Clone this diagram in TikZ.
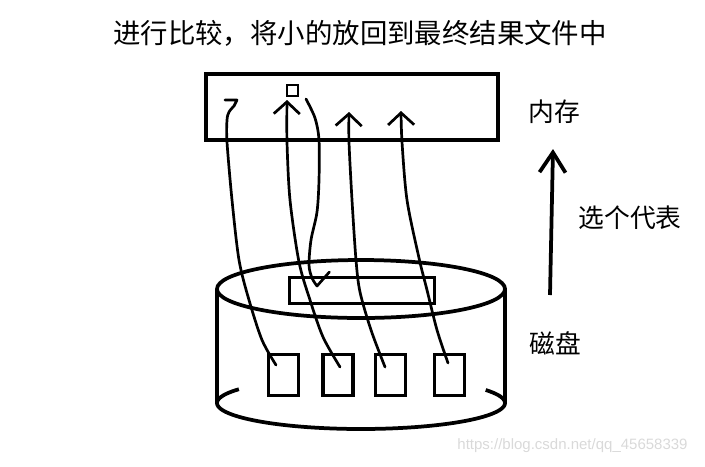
\documentclass[tikz,border=0pt]{standalone}
\usepackage{fontspec}
\setsansfont{Liberation Sans}
\newfontfamily\cjk{Noto Sans CJK SC}
\usetikzlibrary{positioning, arrows.meta, shapes.geometric, calc}

\begin{document}
\begin{tikzpicture}[
  x=0.03cm, y=-0.03cm,
  mem/.style={draw, line width=3.4pt, minimum width=8.76cm, minimum height=1.98cm, inner sep=0pt},
  blk/.style={draw, line width=2.8pt, minimum width=0.9cm, minimum height=1.23cm, inner sep=0pt},
  lbl/.style={font=\cjk\fontsize{22}{22}\selectfont, inner sep=0pt},
  disk/.style={line width=3.2pt},
  wire/.style={line width=2.3pt, line cap=round, line join=round},
  op/.style={wire, -{Straight Barb[length=0.36cm, width=0.78cm]}}
]
  \useasboundingbox (0,0) rectangle (705,466);

  \node[lbl, font=\cjk\fontsize{23.4}{24}\selectfont] (title) at (360,33) {进行比较，将小的放回到最终结果文件中};

  % memory
  \node[mem] (mem) at (352,107) {};
  \node[draw, line width=2pt, minimum size=0.33cm, inner sep=0pt] (tag) at (292.5,90.5) {};
  \node[lbl] (memlbl) at (554,112) {内存};
  \node[lbl] (pick) at (630,218) {选个代表};
  \node[lbl] (disklbl) at (555,343) {磁盘};

  % disk
  \node[draw, disk, ellipse, minimum width=8.64cm, minimum height=1.74cm, inner sep=0pt, outer sep=0pt] (top) at (361,289) {};
  \draw[disk] (top.west) -- (217,403);
  \draw[disk] (top.east) -- (505,403);
  \draw[disk] plot[domain=-30:212, samples=80] ({361+144*cos(\x)}, {403+26*sin(\x)});
  \node[blk, minimum width=4.35cm, minimum height=0.77cm] (buf) at (362,290.5) {};
  \foreach \i/\cx in {1/283.5, 2/338, 3/390.5, 4/449.5}
    \node[blk] (b\i) at (\cx,375) {};

  \coordinate (s1) at ($(b1)+(-7.5,-10)$);
  \coordinate (s2) at ($(b2)+(2,-8)$);
  \coordinate (s3) at ($(b3)+(-5.5,-8)$);
  \coordinate (s4) at ($(b4)+(-1.5,-12)$);
  \coordinate (t2) at (287,100);
  \coordinate (t3) at (349,112);
  \coordinate (t4) at (401,111);
  \coordinate (r0) at (306,99);

  \draw[wire] plot[smooth] coordinates {(s1) (262,340) (249,300) (239,260) (232,200) (227,142) (227,120) (229,112) (234,106)} -- (237,100) -- (225,100);
  \draw[op] plot[smooth] coordinates {(s2) (323,337) (310,300) (299,262) (290,200) (287,142) (t2)};
  \draw[wire] plot[smooth] coordinates {(r0) (315,118) (319,140) (319,180) (317,212) (311,240) (309,265) (312,278) (317,286)} -- ($(buf.north west)!0.28!(buf.north east)+(0,-4)$);
  \draw[op] plot[smooth] coordinates {(s3) (371,330) (360,292) (356,260) (352,200) (349,142) (t3)};
  \draw[op] plot[smooth] coordinates {(s4) (437,330) (427,290) (419,258) (407,200) (402,142) (t4)};

  % representative
  \coordinate (up0) at (550,295);
  \coordinate (up1) at (553,149);
  \draw[line width=3.2pt, -{Straight Barb[length=0.6cm, width=0.78cm]}] (up0) -- (up1);

  \node[font=\sffamily\fontsize{12.8}{13}\selectfont, text=gray!30, inner sep=0pt] (wm) at (572.5,446) {https://blog.csdn.net/qq\_45658339};
\end{tikzpicture}
\end{document}
